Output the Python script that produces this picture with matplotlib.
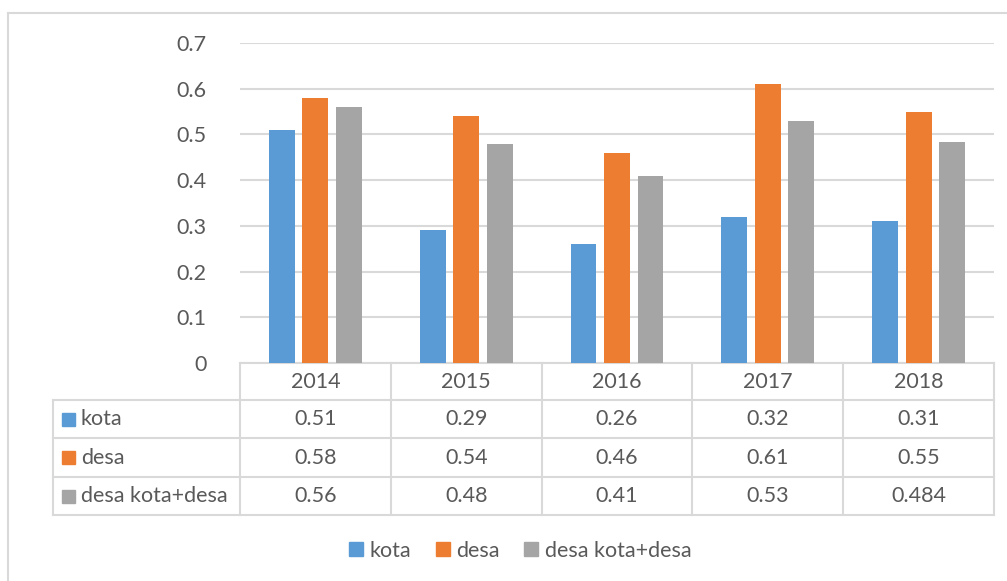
import numpy as np
import matplotlib.pyplot as plt
from matplotlib.lines import Line2D
from matplotlib.patches import Rectangle

years = ['2014', '2015', '2016', '2017', '2018']
series_names = ['kota', 'desa', 'desa kota+desa']
kota = [0.51, 0.29, 0.26, 0.32, 0.31]
desa = [0.58, 0.54, 0.46, 0.61, 0.55]
gabungan = [0.56, 0.48, 0.41, 0.53, 0.484]
value_labels = [['0.51', '0.29', '0.26', '0.32', '0.31'],
                ['0.58', '0.54', '0.46', '0.61', '0.55'],
                ['0.56', '0.48', '0.41', '0.53', '0.484']]

colors = ['#5B9BD5', '#ED7D31', '#A5A5A5']
text_col = '#595959'
line_col = '#D9D9D9'
fs = 15.5

plt.rcParams['font.family'] = ['Lato', 'DejaVu Sans']

W, H = 1007, 581
fig = plt.figure(figsize=(W / 100, H / 100), dpi=100)

# pixel helper for axes placement
def px_rect(x0, y0, x1, y1):
    return [x0 / W, 1 - y1 / H, (x1 - x0) / W, (y1 - y0) / H]

# overlay axes in pixel coordinates for frame and table
over = fig.add_axes([0, 0, 1, 1])
over.set_xlim(0, W)
over.set_ylim(H, 0)
over.axis('off')

# chart frame
over.plot([8, W], [13, 13], color=line_col, lw=1.5)
over.plot([8, 8], [13, H], color=line_col, lw=1.5)

# bar plot
x0, x1 = 240, 994
y_top, y_zero = 43, 363
ax = fig.add_axes(px_rect(x0, y_top, x1, y_zero))
x = np.arange(len(years))
w = 0.172
off = 0.222
for i, vals in enumerate([kota, desa, gabungan]):
    ax.bar(x + (i - 1) * off, vals, width=w, color=colors[i], zorder=3)
ax.set_xlim(-0.5, len(years) - 0.5)
ax.set_ylim(0, 0.7)
ax.set_yticks(np.arange(0, 0.71, 0.1))
ax.set_yticklabels(['0', '0.1', '0.2', '0.3', '0.4', '0.5', '0.6', '0.7'])
ax.tick_params(axis='y', length=0, pad=24, labelsize=fs, labelcolor=text_col)
ax.set_xticks([])
ax.grid(axis='y', color=line_col, lw=1.5, zorder=0)
for s in ax.spines.values():
    s.set_visible(False)
ax.patch.set_alpha(0)

# data table
col_w = (x1 - x0) / len(years)
rows_y = [363, 400, 438, 477, 515]
lab_x = 53
over.plot([x0, x1], [rows_y[0], rows_y[0]], color=line_col, lw=1.5)
for yy in rows_y[1:]:
    over.plot([lab_x, x1], [yy, yy], color=line_col, lw=1.5)
over.plot([lab_x, lab_x], [rows_y[1], rows_y[-1]], color=line_col, lw=1.5)
for j in range(len(years) + 1):
    xx = x0 + j * col_w
    over.plot([xx, xx], [rows_y[0], rows_y[-1]], color=line_col, lw=1.5)

for j, yr in enumerate(years):
    cx = x0 + (j + 0.5) * col_w
    over.text(cx, (rows_y[0] + rows_y[1]) / 2, yr, ha='center', va='center',
              fontsize=fs, color=text_col)
for i, name in enumerate(series_names):
    cy = (rows_y[i + 1] + rows_y[i + 2]) / 2
    over.add_patch(Rectangle((62, cy - 6.5), 13, 13, color=colors[i]))
    over.text(81, cy, name, ha='left', va='center', fontsize=fs, color=text_col)
    for j in range(len(years)):
        cx = x0 + (j + 0.5) * col_w
        over.text(cx, cy, value_labels[i][j], ha='center', va='center',
                  fontsize=fs, color=text_col)

# legend
handles = [Line2D([], [], marker='s', ls='', color=c, markersize=9.5) for c in colors]
fig.legend(handles, series_names, loc='center', bbox_to_anchor=(520 / W, 1 - 551 / H),
           ncol=3, frameon=False, fontsize=fs, labelcolor=text_col,
           handlelength=0.7, handletextpad=0.3, columnspacing=1.1)

fig.savefig('out.png', dpi=100)
